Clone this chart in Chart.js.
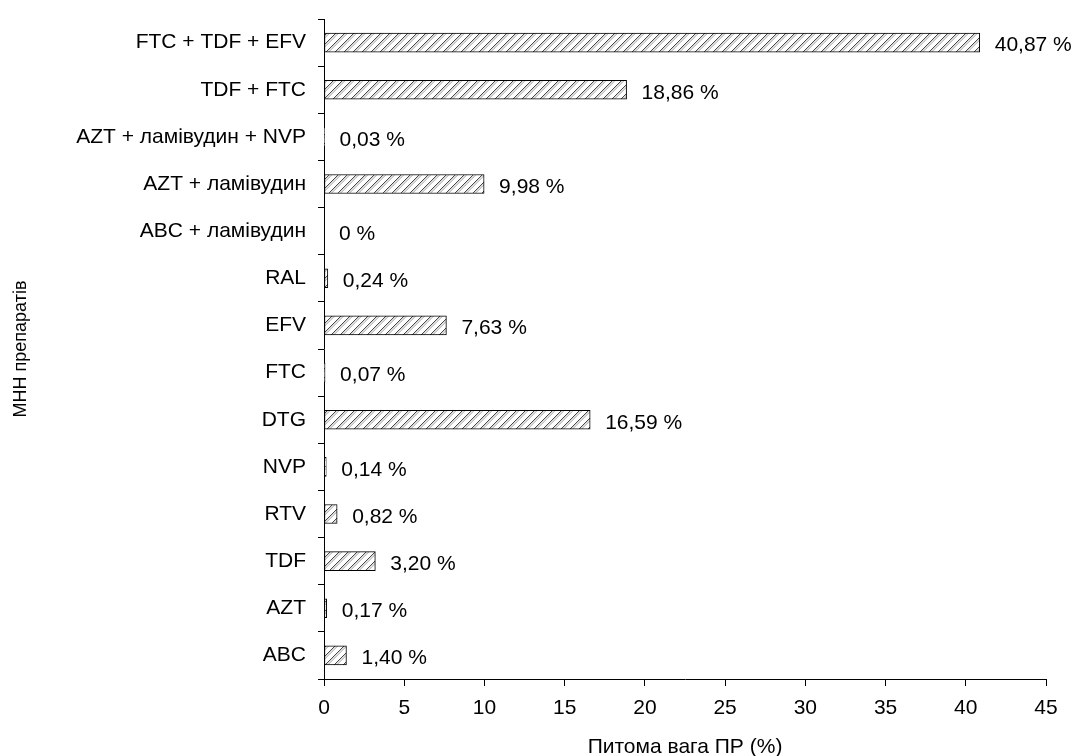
<!DOCTYPE html>
<html>
<head>
<meta charset="utf-8">
<script src="https://cdn.jsdelivr.net/npm/chart.js@4.4.0/dist/chart.umd.min.js"></script>
<style>
  html, body { margin: 0; padding: 0; background: #fff; }
  #wrap { width: 1078px; height: 756px; }
</style>
</head>
<body>
<div id="wrap"><canvas id="shareChart" width="1078" height="756"></canvas></div>
<script>
// categories (top to bottom) and share values, %
const drugs = ['FTC + TDF + EFV', 'TDF + FTC', 'AZT + ламівудин + NVP', 'AZT + ламівудин', 'ABC + ламівудин',
    'RAL', 'EFV', 'FTC', 'DTG', 'NVP', 'RTV', 'TDF', 'AZT', 'ABC'];
const shares = [40.87, 18.86, 0.03, 9.98, 0, 0.24, 7.63, 0.07, 16.59, 0.14, 0.82, 3.20, 0.17, 1.40];
const xTicks = [0, 5, 10, 15, 20, 25, 30, 35, 40, 45];

const FONT = '"Liberation Sans", Arial, sans-serif';

// diagonal hatch fill like the original
function makeHatch() {
    const c = document.createElement('canvas');
    c.width = 9;
    c.height = 9;
    const g = c.getContext('2d');
    g.fillStyle = '#fff';
    g.fillRect(0, 0, 9, 9);
    const lines = [[0, '#333', 0.9], [1.5, '#888', 0.6], [3, '#999', 0.6]];
    lines.forEach(([off, col, w]) => {
        g.strokeStyle = col;
        g.lineWidth = w;
        for (let s = -9; s <= 9; s += 9) {
            g.beginPath();
            g.moveTo(s + off - 1, 10);
            g.lineTo(s + off + 10, -1);
            g.stroke();
        }
    });
    return g.createPattern(c, 'repeat');
}

function fmt(v) {
    return v === 0 ? '0 %' : v.toFixed(2).replace('.', ',') + ' %';
}

// value labels to the right of each bar
const valueLabels = {
    id: 'valueLabels',
    afterDatasetsDraw(chart) {
        const ctx = chart.ctx;
        const meta = chart.getDatasetMeta(0);
        ctx.save();
        ctx.font = '21px ' + FONT;
        ctx.fillStyle = '#000';
        ctx.textAlign = 'left';
        ctx.textBaseline = 'middle';
        meta.data.forEach((bar, i) => {
            ctx.fillText(fmt(shares[i]), bar.x + 15, bar.y + 3);
        });
        ctx.restore();
    }
};

document.addEventListener('DOMContentLoaded', function() {
    const ctx = document.getElementById('shareChart').getContext('2d');
    new Chart(ctx, {
        type: 'bar',
        data: {
            labels: drugs,
            datasets: [{
                data: shares,
                backgroundColor: makeHatch(),
                borderColor: '#000',
                borderWidth: 1,
                borderSkipped: false,
                barThickness: 19
            }]
        },
        options: {
            indexAxis: 'y',
            responsive: false,
            animation: false,
            layout: { padding: { top: 19, right: 32, left: 0, bottom: 0 } },
            plugins: {
                legend: { display: false },
                tooltip: { enabled: false }
            },
            scales: {
                x: {
                    min: 0,
                    max: 45,
                    afterBuildTicks: function(scale) {
                        scale.ticks = xTicks.map(v => ({ value: v }));
                    },
                    afterFit: function(scale) { scale.height = 77; },
                    grid: { drawOnChartArea: false, drawTicks: true, tickLength: 7, color: '#000' },
                    border: { display: true, color: '#000', width: 1 },
                    ticks: { color: '#000', font: { family: FONT, size: 21 }, padding: 10, maxRotation: 0 },
                    title: {
                        display: true,
                        text: 'Питома вага ПР (%)',
                        color: '#000',
                        font: { family: FONT, size: 21, lineHeight: 1 },
                        padding: { top: 0, bottom: -2 }
                    }
                },
                y: {
                    afterFit: function(scale) {
                        scale.width = 324;
                        scale.paddingTop = 0;
                        scale.paddingBottom = 0;
                    },
                    grid: { drawOnChartArea: false, drawTicks: true, tickLength: 6, color: '#000', offset: true },
                    border: { display: true, color: '#000', width: 1 },
                    ticks: { color: '#000', font: { family: FONT, size: 21 }, padding: 12, autoSkip: false },
                    title: {
                        display: true,
                        text: 'МНН препаратів',
                        color: '#000',
                        font: { family: FONT, size: 18, lineHeight: 1 },
                        padding: { top: 12, bottom: 0 }
                    }
                }
            }
        },
        plugins: [valueLabels]
    });
});
</script>
</body>
</html>
